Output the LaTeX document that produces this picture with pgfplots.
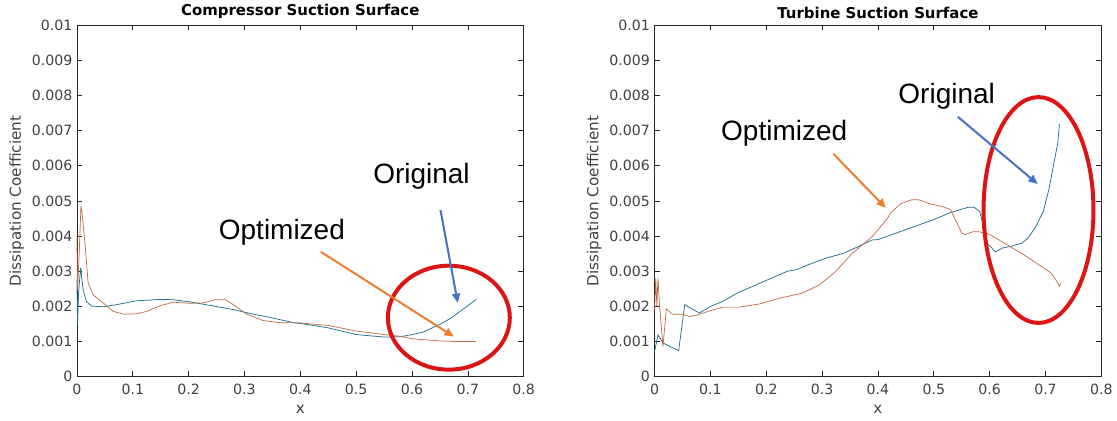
\documentclass[border=0pt]{standalone}
\usepackage{pgfplots}
\pgfplotsset{compat=1.18}
\usepackage{fontspec}
\setmainfont{DejaVu Sans}
\newfontfamily\annfont{Liberation Sans}
\usetikzlibrary{arrows.meta}

\definecolor{orig}{RGB}{30,110,140}
\definecolor{opt}{RGB}{192,108,72}
\definecolor{axgray}{RGB}{38,38,38}
\definecolor{lblgray}{RGB}{64,64,64}
\definecolor{arrblue}{RGB}{68,114,196}
\definecolor{arrorange}{RGB}{237,125,49}
\definecolor{ringred}{RGB}{220,20,20}

\pgfplotsset{
  dc/.style={
    scale only axis, width=335.25pt, height=264pt,
    anchor=south west,
    xmin=0, xmax=0.8, ymin=0, ymax=0.01,
    xtick={0,0.1,...,0.8},
    ytick={0,0.001,...,0.01},
    scaled ticks=false,
    xticklabel style={/pgf/number format/fixed, /pgf/number format/precision=1, yshift=-2pt},
    yticklabel style={/pgf/number format/fixed, /pgf/number format/precision=3},
    /pgf/number format/assume math mode=true,
    tick label style={font=\fontsize{10.6}{12}\selectfont, text=lblgray},
    label style={font=\fontsize{11.4}{13}\selectfont, text=lblgray},
    title style={font=\fontsize{11.2}{13}\selectfont\bfseries, yshift=-5pt},
    axis line style={axgray, line width=0.6pt},
    tick style={axgray, line width=0.5pt},
    major tick length=4pt,
    tick align=inside,
    xlabel={x}, ylabel={Dissipation Coefficient},
    xlabel style={yshift=-1pt},
    ylabel style={yshift=-1pt},
    clip=false,
  },
  origline/.style={orig, line width=0.55pt},
  optline/.style={opt, line width=0.55pt},
}

\begin{document}
\begin{tikzpicture}
\path (0,0) rectangle (837.75pt,315.75pt);

% ---- left panel
\begin{axis}[dc, at={(57.75pt,33pt)}, title={Compressor Suction Surface}]
\addplot[origline] coordinates {
 (0,0.00276) (0.001,0.00148) (0.003,0.0024) (0.0066,0.0031) (0.011,0.00247)
 (0.017,0.00214) (0.026,0.00201) (0.047,0.00199) (0.071,0.00205) (0.107,0.00216)
 (0.149,0.0022) (0.172,0.00219) (0.202,0.00213) (0.238,0.00203) (0.28,0.00191)
 (0.31,0.0018) (0.351,0.00167) (0.387,0.00154) (0.411,0.00149) (0.45,0.00139)
 (0.5,0.0012) (0.55,0.00113) (0.58,0.00114) (0.6,0.0012) (0.62,0.00127)
 (0.65,0.00149) (0.67,0.00167) (0.7,0.00202) (0.715,0.0022)};
\addplot[optline] coordinates {
 (0,0.00398) (0.001,0.00247) (0.004,0.0035) (0.0072,0.00486) (0.0095,0.0046)
 (0.0143,0.0038) (0.02,0.00267) (0.029,0.00233) (0.047,0.0021) (0.065,0.00186)
 (0.083,0.00178) (0.107,0.00179) (0.125,0.00186) (0.149,0.00202) (0.172,0.00212)
 (0.202,0.00209) (0.226,0.0021) (0.25,0.0022) (0.265,0.0022) (0.28,0.00205)
 (0.304,0.00178) (0.333,0.0016) (0.363,0.00154) (0.399,0.00153) (0.45,0.00146)
 (0.5,0.0013) (0.55,0.0012) (0.58,0.00115) (0.6,0.00108) (0.65,0.00102)
 (0.68,0.001) (0.715,0.001)};
\draw[ringred, line width=3pt] (axis cs:0.666,0.00168) ellipse [x radius=45.75pt, y radius=39pt];
\draw[arrorange, line width=1.5pt, -{Triangle[length=7pt,width=6pt]}] (axis cs:0.437,0.00355) -- (axis cs:0.675,0.00114);
\draw[arrblue, line width=1.5pt, -{Triangle[length=7pt,width=6pt]}] (axis cs:0.651,0.00474) -- (axis cs:0.682,0.0021);
\node[font=\annfont\fontsize{21}{21}\selectfont] at (axis cs:0.617,0.00571) {Original};
\node[font=\annfont\fontsize{21}{21}\selectfont] at (axis cs:0.367,0.00412) {Optimized};
\end{axis}

% ---- right panel
\begin{axis}[dc, at={(491.25pt,33pt)}, title={Turbine Suction Surface}]
\addplot[origline] coordinates {
 (0,0.00072) (0.006,0.00119) (0.015,0.00096) (0.043,0.00074) (0.054,0.00205)
 (0.08,0.00181) (0.1,0.002) (0.122,0.00214) (0.148,0.00238) (0.2,0.00274)
 (0.238,0.003) (0.253,0.00304) (0.276,0.00319) (0.307,0.00337) (0.34,0.00352)
 (0.39,0.00389) (0.4,0.0039) (0.467,0.00428) (0.5,0.00447) (0.53,0.00467)
 (0.562,0.00482) (0.572,0.00482) (0.582,0.0047) (0.589,0.00428) (0.595,0.0038)
 (0.601,0.00371) (0.61,0.00355) (0.623,0.00366) (0.639,0.00371) (0.658,0.0038)
 (0.67,0.00397) (0.683,0.00428) (0.696,0.0047) (0.706,0.00532) (0.715,0.00607)
 (0.722,0.00664) (0.725,0.00719)};
\addplot[optline] coordinates {
 (0,0.0019) (0.002,0.0028) (0.004,0.002) (0.006,0.0028) (0.009,0.00198)
 (0.015,0.00086) (0.021,0.00193) (0.032,0.00178) (0.05,0.00178) (0.0625,0.00171)
 (0.077,0.00176) (0.098,0.00187) (0.122,0.00198) (0.152,0.00198) (0.1875,0.00207)
 (0.223,0.00223) (0.265,0.00238) (0.295,0.00261) (0.324,0.00299) (0.354,0.00351)
 (0.39,0.00399) (0.417,0.0045) (0.422,0.00465) (0.441,0.00492) (0.46,0.00503)
 (0.473,0.00503) (0.492,0.00492) (0.515,0.00484) (0.53,0.00475) (0.54,0.00442)
 (0.55,0.00409) (0.556,0.00404) (0.569,0.00412) (0.582,0.00412) (0.601,0.00404)
 (0.626,0.0038) (0.658,0.0035) (0.683,0.00324) (0.71,0.00295) (0.72,0.00272)
 (0.725,0.00257) (0.727,0.00265)};
\draw[ringred, line width=3pt] (axis cs:0.6875,0.00474) ellipse [x radius=41.25pt, y radius=84.75pt];
\draw[arrorange, line width=1.5pt, -{Triangle[length=7pt,width=6pt]}] (axis cs:0.320,0.00634) -- (axis cs:0.414,0.0048);
\draw[arrblue, line width=1.5pt, -{Triangle[length=7pt,width=6pt]}] (axis cs:0.543,0.00739) -- (axis cs:0.686,0.00548);
\node[font=\annfont\fontsize{21}{21}\selectfont] at (axis cs:0.523,0.00798) {Original};
\node[font=\annfont\fontsize{21}{21}\selectfont] at (axis cs:0.232,0.00693) {Optimized};
\end{axis}
\end{tikzpicture}
\end{document}
